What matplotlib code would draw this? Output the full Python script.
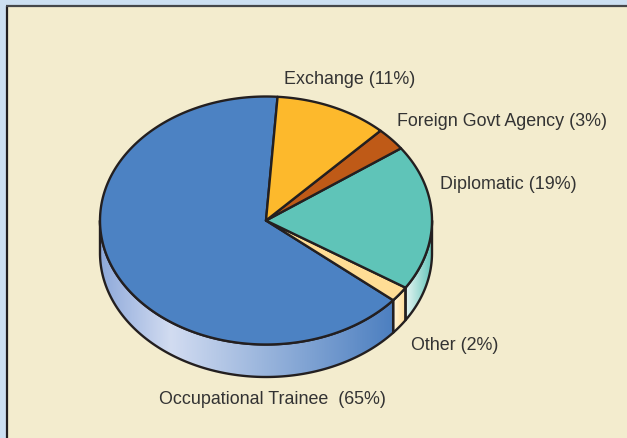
"""Recreate the 3D style visa category pie on a cream panel."""

import matplotlib
matplotlib.use("Agg")
import matplotlib.pyplot as plt
import numpy as np
from matplotlib.colors import LinearSegmentedColormap
from matplotlib.patches import Polygon, Rectangle

# ── data ────────────────────────────────────────────────────────
CATEGORIES = ["Occupational Trainee  (65%)", "Other (2%)", "Diplomatic (19%)",
              "Foreign Govt Agency (3%)", "Exchange (11%)"]
SHARES = [65, 2, 19, 3, 11]
LABEL_POS = [(272.5, 400), (454.5, 346), (508.5, 185), (502, 122), (350, 79)]

# ── style ───────────────────────────────────────────────────────
TOP_COLORS = ["#4c82c3", "#ffdd95", "#5fc4b8", "#bf5a17", "#fdb92c"]
SIDE_RAMPS = [
    ["#8ea9da", "#d2dcf1", "#4c7fc0"],
    ["#fff6dc", "#ffdd98"],
    ["#e4f4f2", "#5fc4b8"],
    None,
    None,
]
RAMP_STOPS = [[0.0, 0.24, 1.0], [0.0, 1.0], [0.0, 1.0], None, None]
PAGE_BG = "#cde0f2"
PANEL_BG = "#f3ecce"
EDGE = "#231f20"

CX, CY = 266, 221.5
RX, RY = 166, 124
DEPTH = 32.5
START_DEG = -274  # occupational slice starts here, running counter clockwise


def rim(t_deg, drop=0.0):
    t = np.radians(t_deg)
    return np.column_stack([CX + RX * np.cos(t), CY - RY * np.sin(t) + drop])


def draw_side(ax, t0, t1, ramp, stops):
    """Outer wall of a slice between two rim angles, with a horizontal ramp."""
    ts = np.linspace(t0, t1, 200)
    pts = np.vstack([rim(ts), rim(ts[::-1], DEPTH)])
    patch = Polygon(pts, closed=True, fc="none", ec="none")
    ax.add_patch(patch)
    cmap = LinearSegmentedColormap.from_list("side", list(zip(stops, ramp)))
    x0, x1 = pts[:, 0].min(), pts[:, 0].max()
    y0, y1 = pts[:, 1].min(), pts[:, 1].max()
    im = ax.imshow(np.linspace(0, 1, 256)[None, :], cmap=cmap, aspect="auto",
                   extent=(x0, x1, y1, y0), zorder=2)
    im.set_clip_path(patch)
    ax.add_patch(Polygon(pts, closed=True, fc="none", ec=EDGE, lw=1.7,
                         joinstyle="round", zorder=3))


fig = plt.figure(figsize=(6.27, 4.39), dpi=100, facecolor=PAGE_BG)
ax = fig.add_axes([0, 0, 1, 1])
ax.set_xlim(0, 627)
ax.set_ylim(439, 0)
ax.axis("off")

# panel with its dark top and left border
ax.add_patch(Rectangle((7, 7), 640, 450, fc=PANEL_BG, ec="none", zorder=0))
ax.plot([7, 7], [439, 7], color=EDGE, lw=1.6, solid_capstyle="butt", zorder=1)
ax.plot([6, 627], [7, 7], color="#45474a", lw=1.6, solid_capstyle="butt", zorder=1)

# slice angles come from the shares
sweeps = np.array(SHARES) * 3.6
ends = START_DEG + np.cumsum(sweeps)
starts = ends - sweeps

# walls first, only the front half of the rim shows one
for t0, t1, ramp, stops in zip(starts, ends, SIDE_RAMPS, RAMP_STOPS):
    if ramp is None:
        continue
    # wall stops at the silhouette of the ellipse
    draw_side(ax, max(t0, -180), min(t1, 0), ramp, stops)

# top face
for t0, t1, col in zip(starts, ends, TOP_COLORS):
    ts = np.linspace(t0, t1, 200)
    pts = np.vstack([[CX, CY], rim(ts)])
    ax.add_patch(Polygon(pts, closed=True, fc=col, ec=EDGE, lw=1.7,
                         joinstyle="round", zorder=4))

for name, (x, y) in zip(CATEGORIES, LABEL_POS):
    ax.text(x, y, name, ha="center", va="center", fontsize=12.85,
            family="Liberation Sans", color="#333333", zorder=5)

fig.savefig("out.png", dpi=100, facecolor=PAGE_BG)
